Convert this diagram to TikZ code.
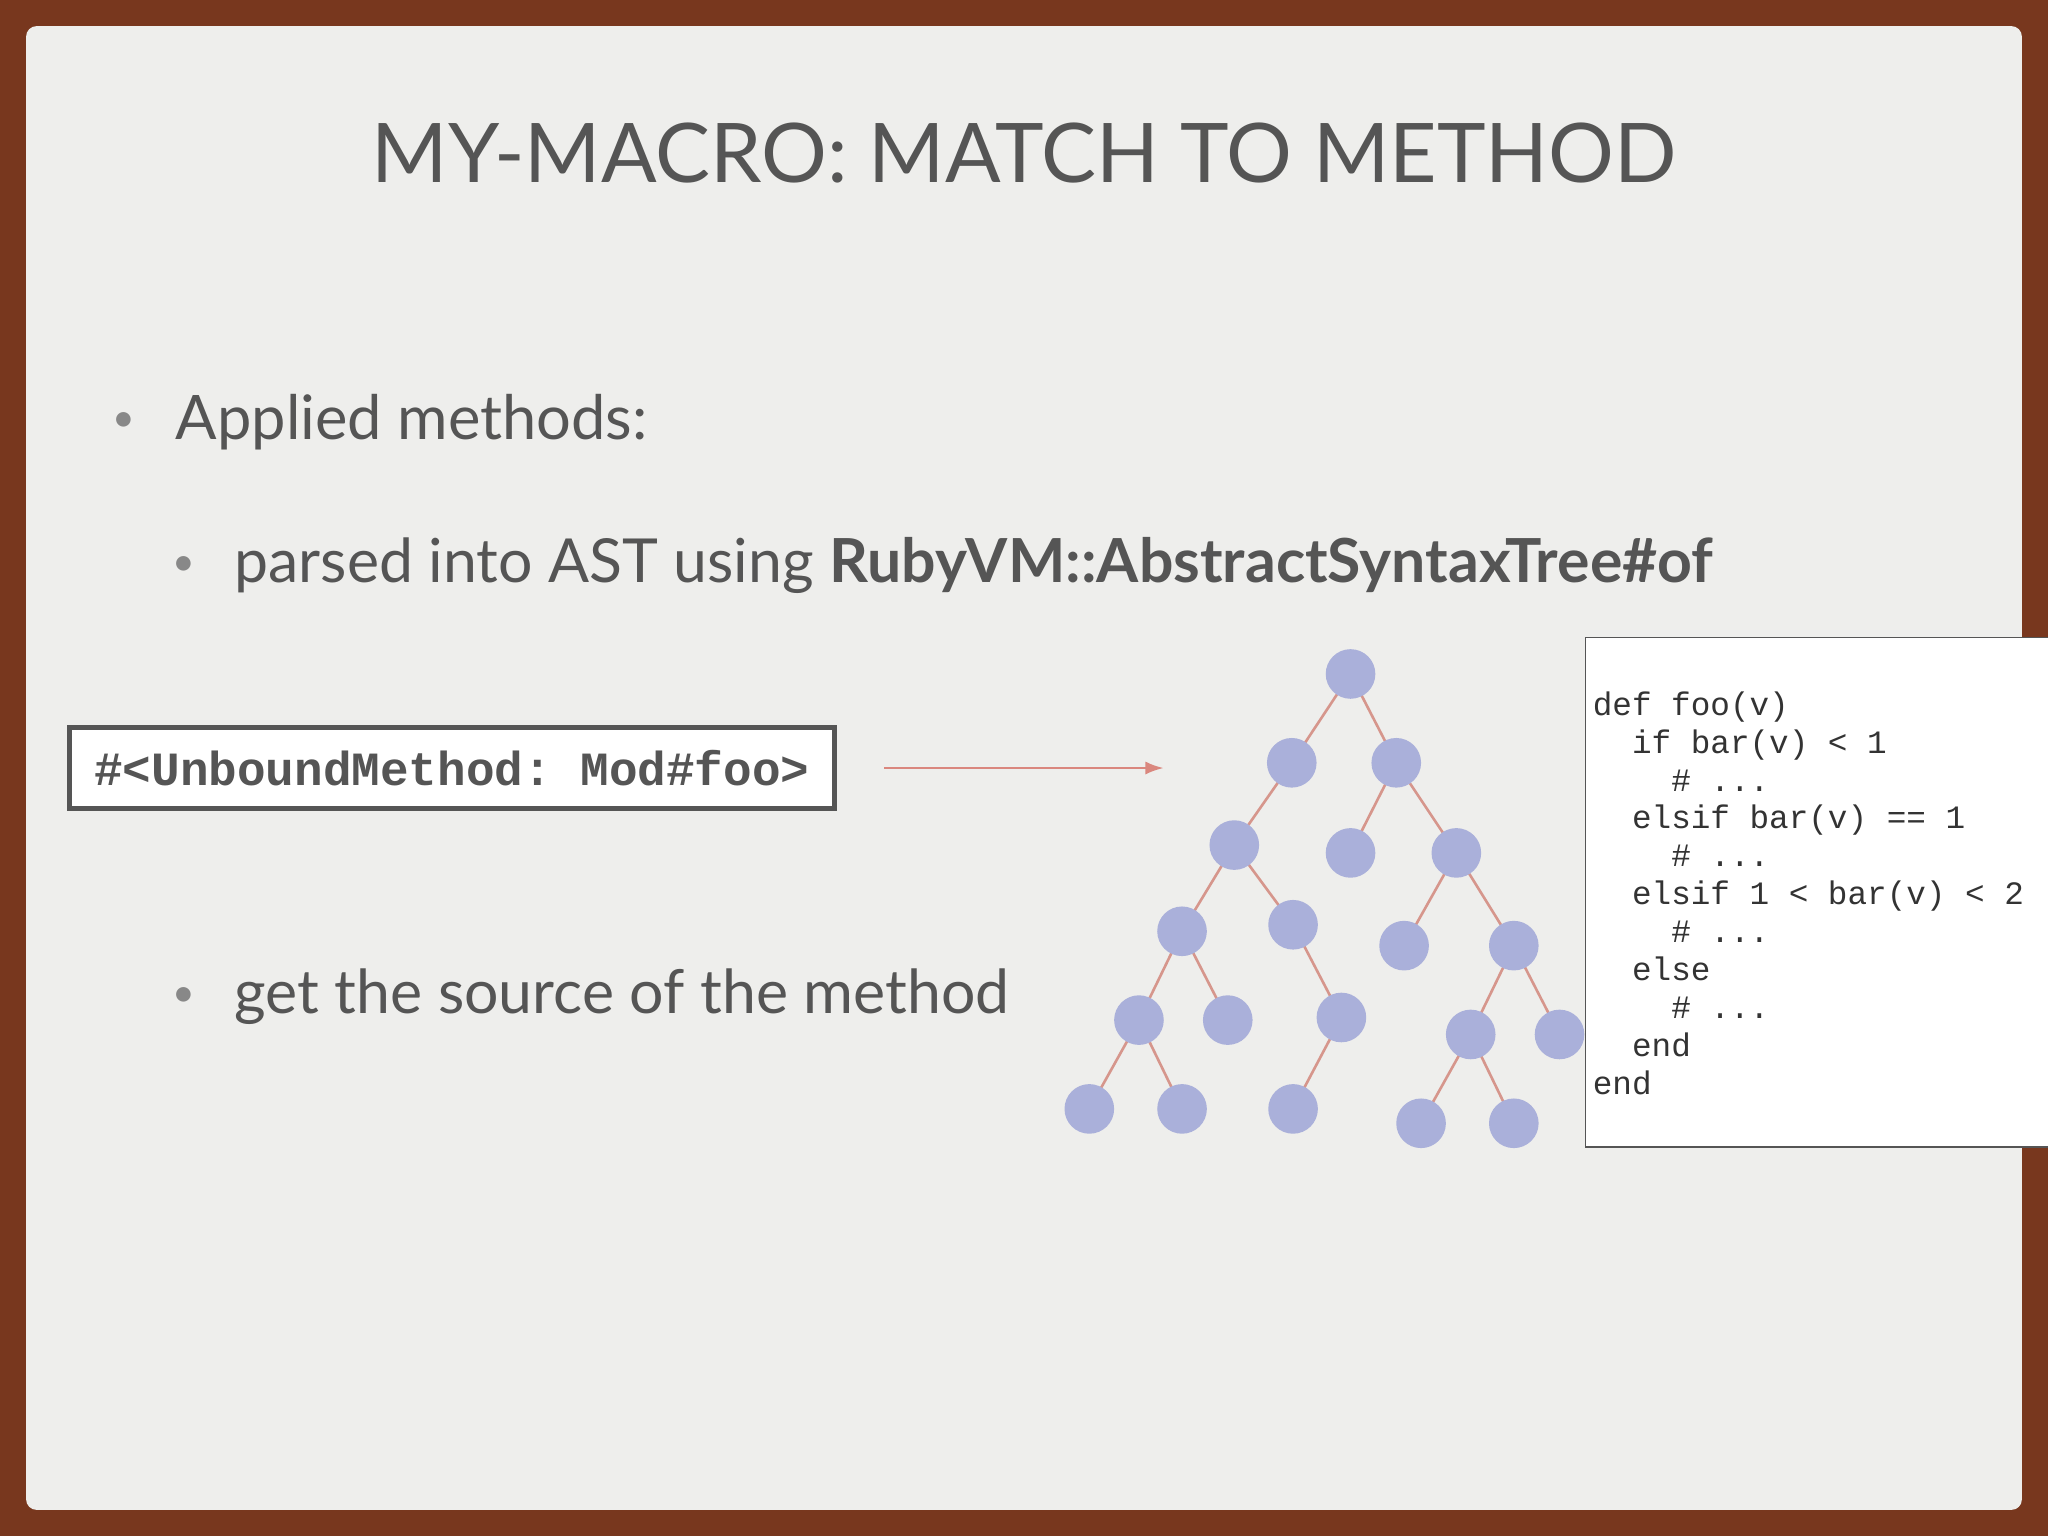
\documentclass[tikz,border=0pt]{standalone}
\usepackage{fontspec}
\setmainfont{Lato}
\setmonofont{Liberation Mono}
\usetikzlibrary{arrows.meta}
\begin{document}
\begin{tikzpicture}[x=1pt,y=-1pt]
\definecolor{bg}{RGB}{120,55,30}
\definecolor{slide}{RGB}{238,238,236}
\definecolor{txt}{RGB}{85,85,85}
\definecolor{nodec}{RGB}{170,176,218}
\definecolor{edgec}{RGB}{214,150,140}
\tikzset{nd/.style={circle,fill=nodec,minimum size=38pt,inner sep=0},ed/.style={draw=edgec,line width=2pt}}
\useasboundingbox (0,0) rectangle (1568,1176);
\fill[bg] (0,0) rectangle (1568,1176);
\fill[slide,rounded corners=8pt] (20,20) rectangle (1548,1156);
\node[txt,font=\fontsize{63}{70}\selectfont] (title) at (784,117) {MY-MACRO: MATCH TO METHOD};
\node[txt,font=\fontsize{47}{52}\selectfont,anchor=west] (b1) at (131,323) {Applied methods:};
\node[txt!70,font=\fontsize{30}{30}\selectfont] (d1) at (95,323) {•};
\node[txt,font=\fontsize{46.5}{52}\selectfont,anchor=west] (b2) at (176,433) {parsed into AST using \textbf{RubyVM::AbstractSyntaxTree\#of}};
\node[txt!70,font=\fontsize{30}{30}\selectfont] (d2) at (141,433) {•};
\node[txt,font=\fontsize{46.5}{52}\selectfont,anchor=west] (b3) at (176,763) {get the source of the method};
\node[txt!70,font=\fontsize{30}{30}\selectfont] (d3) at (141,763) {•};
\node[draw=txt,line width=3.5pt,fill=white,minimum width=586pt,minimum height=62pt,text=txt,font=\ttfamily\bfseries\fontsize{36.5}{36}\selectfont] (um) at (346,588) {\#<UnboundMethod: Mod\#foo>};
\coordinate (as) at (677,588);
\coordinate (ae) at (891,588);
\draw[edgec!90!red,line width=2pt,-{Latex[length=14pt,width=10pt]}] (as) -- (ae);
\foreach \n/\x/\y in {r/1034/516,a/989/584,b/1069/584,c/945/647,d/1034/653,e/1115/653,f/905/713,g/990/708,h/872/781,i/940/781,j/1027/779,k/834/849,l/905/849,m/990/849,n/1075/724,o/1159/724,p/1126/792,q/1194/792,s/1088/860,t/1159/860}
  \coordinate (\n) at (\x,\y);
\foreach \u/\v in {r/a,r/b,a/c,b/d,b/e,c/f,c/g,f/h,f/i,g/j,h/k,h/l,j/m,e/n,e/o,o/p,o/q,p/s,p/t}
  \draw[ed] (\u) -- (\v);
\foreach \n in {r,a,b,c,d,e,f,g,h,i,j,k,l,m,n,o,p,q,s,t}
  \node[nd] (N\n) at (\n) {};
\draw[txt,line width=1.2pt,fill=white] (1580,488) -- (1214,488) -- (1214,878) -- (1580,878);
\node[anchor=north west,align=left,text=black!80,font=\ttfamily\fontsize{25}{29}\selectfont] (code) at (1216,526) {def foo(v)\\
\ \ if bar(v) < 1\\
\ \ \ \ \# ...\\
\ \ elsif bar(v) == 1\\
\ \ \ \ \# ...\\
\ \ elsif 1 < bar(v) < 2\\
\ \ \ \ \# ...\\
\ \ else\\
\ \ \ \ \# ...\\
\ \ end\\
end};
\end{tikzpicture}
\end{document}
